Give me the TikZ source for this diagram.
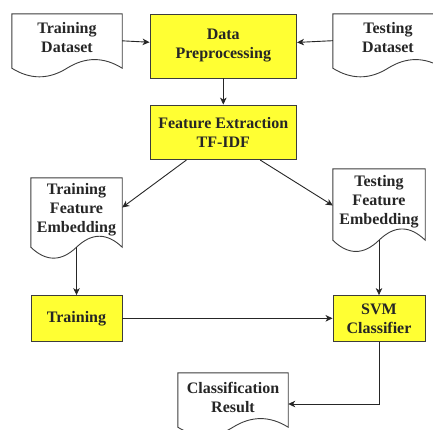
\documentclass[tikz,border=0pt]{standalone}
\usepackage{fontspec}
\setmainfont{Liberation Serif}
\usetikzlibrary{arrows.meta, calc}
\definecolor{box_yellow}{RGB}{255, 255, 51}
\definecolor{edge_grey}{RGB}{60, 60, 60}

\begin{document}
\begin{tikzpicture}[
    x=1pt, y=-1pt,
    >={Stealth[length=7pt, width=6.5pt, inset=2pt]},
    every node/.style={font=\fontsize{16pt}{19pt}\selectfont\bfseries,
                text=black!85, align=center, inner sep=0pt},
    dims/.style 2 args={minimum width=#1pt, minimum height=#2pt},
    box/.style={draw=edge_grey, line width=0.9pt, fill=box_yellow},
    doc/.style={fill=none},
    docline/.style={draw=edge_grey, line width=0.9pt},
    arr/.style={->, line width=0.9pt, black!85},
]
\useasboundingbox (0,0) rectangle (433,429);
\clip (0,0) rectangle (433,429);

% inputs and preprocessing (doc nodes reach 6pt above their outline)
\node[doc, dims={110}{60}]   (trainset) at (67, 38)    {Training\\Dataset};
\node[box, dims={146.5}{64}] (prep)     at (223.3, 46) {Data\\Preprocessing};
\node[doc, dims={110}{60}]   (testset)  at (388, 38)   {Testing\\Dataset};
\node[box, dims={146.5}{54.5}] (tfidf)  at (223.3, 132.3) {Feature Extraction\\TF-IDF};

% embeddings
\node[doc, dims={91}{75}]    (trainemb) at (76.5, 209.5) {Training\\Feature\\Embedding};
\node[doc, dims={92}{77}]    (testemb)  at (379, 201.5)  {Testing\\Feature\\Embedding};

% model and output
\node[box, dims={91}{45.5}]  (train)    at (76.5, 318.3) {Training};
\node[box, dims={92}{45.5}]  (svm)      at (379, 318.3)  {SVM\\Classifier};
\node[doc, dims={110}{60}]   (result)   at (233, 397)    {Classification\\Result};

% document outlines with wavy bottom edge
\foreach \n/\d in {trainset/11.5, testset/11.5, trainemb/14.6, testemb/15, result/11.5}{
  \coordinate (nw) at ([yshift=-6pt]\n.north west);
  \coordinate (ne) at ([yshift=-6pt]\n.north east);
  \draw[docline] (\n.south west) -- (nw) -- (ne) -- (\n.south east)
    .. controls ($(\n.south east)!1/6!(\n.south west)+(0pt,\d pt)$)
            and ($(\n.south east)!1/3!(\n.south west)+(0pt,\d pt)$) .. (\n.south)
    .. controls ($(\n.south east)!2/3!(\n.south west)+(0pt,-\d pt)$)
            and ($(\n.south east)!5/6!(\n.south west)+(0pt,-\d pt)$) .. (\n.south west)
    -- cycle;
}

\draw[arr] (trainset) -- (prep);
\draw[arr] (testset) -- (prep);
\draw[arr] (prep) -- (tfidf);
\draw[arr] ($(tfidf.south west)!0.25!(tfidf.south east)$) -- ([yshift=2pt]trainemb.east);
\draw[arr] ($(tfidf.south west)!0.75!(tfidf.south east)$) -- ([yshift=-4pt]testemb.west);
\draw[arr] (trainemb.south) -- (train);
\draw[arr] (testemb.south) -- (svm);
\draw[arr] (train) -- (svm);
\draw[arr] (svm.south) |- ([yshift=-7pt]result.east);
\end{tikzpicture}
\end{document}
